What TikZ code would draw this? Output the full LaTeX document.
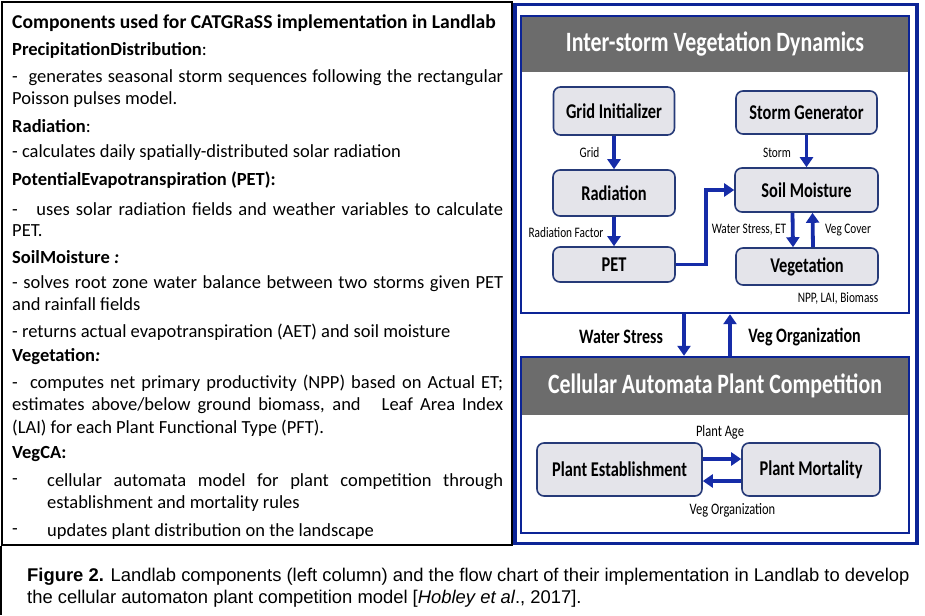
\documentclass[tikz,border=0pt]{standalone}
\usepackage{fontspec}
\setmainfont{Carlito}
\newfontfamily\capfont{Liberation Sans}
\newfontfamily\condfont[FakeStretch=0.78]{Carlito}
\usetikzlibrary{arrows.meta}
\definecolor{arrowblue}{RGB}{22,44,168}
\definecolor{frameblue}{RGB}{12,36,150}
\definecolor{boxborder}{RGB}{38,58,120}
\definecolor{boxfill}{RGB}{228,228,234}
\definecolor{headgray}{RGB}{108,108,108}
\tikzset{
  box/.style={draw=boxborder, fill=boxfill, rounded corners=7pt, line width=1.6pt,
    font=\condfont\bfseries\fontsize{21}{23}\selectfont, inner sep=0pt},
  flow/.style={-{Triangle[length=10pt,width=13pt]}, draw=arrowblue, line width=3.8pt},
  lbl/.style={font=\condfont\fontsize{14.5}{16}\selectfont, inner sep=0pt},
  lblb/.style={font=\condfont\fontsize{16}{18}\selectfont, inner sep=0pt},
  midlbl/.style={font=\condfont\bfseries\fontsize{20.5}{22}\selectfont, inner sep=0pt},
  panel/.style={draw=frameblue, line width=2.4pt, inner sep=0pt},
  head/.style={fill=headgray, inner sep=0pt, text=white, font=\condfont\bfseries\fontsize{28}{30}\selectfont},
  txt/.style={anchor=west, inner sep=0pt, font=\fontsize{18.5}{20}\selectfont},
  txtb/.style={anchor=west, inner sep=0pt, font=\bfseries\fontsize{18.5}{20}\selectfont},
  captext/.style={anchor=west, inner sep=0pt, font=\capfont\fontsize{18.4}{20}\selectfont},
}
\begin{document}
\begin{tikzpicture}[x=1pt,y=-1pt]
\useasboundingbox (0,0) rectangle (925,615);
\fill[white] (0,0) rectangle (925,615);
% left column
\node[draw=black, line width=2pt, minimum width=510pt, minimum height=543pt, inner sep=0pt] (leftbox) at (257,273.5) {};
\coordinate (pagebottom) at (2,615);
\draw[black, line width=1.5pt] (leftbox.south west) -- (leftbox.south west |- pagebottom);
\node[txtb, font=\bfseries\fontsize{19.6}{21}\selectfont] (t0) at (12,23) {Components used for CATGRaSS implementation in Landlab};
\node[txt] (t1) at (12,50) {\textbf{PrecipitationDistribution}:};
\node[txt] (t2) at (12,78) {\makebox[491pt][s]{-\ \ generates seasonal storm sequences following the rectangular}};
\node[txt] (t3) at (12,100) {Poisson pulses model.};
\node[txt] (t4) at (12,126) {\textbf{Radiation}:};
\node[txt] (t5) at (12,153) {- calculates daily spatially-distributed solar radiation};
\node[txtb] (t6) at (12,180) {PotentialEvapotranspiration (PET):};
\node[txt] (t7) at (12,209) {\makebox[491pt][s]{-\ \ \ uses solar radiation fields and weather variables to calculate}};
\node[txt] (t8) at (12,231) {PET.};
\node[txtb] (t9) at (12,257) {SoilMoisture \textit{:}};
\node[txt] (t10) at (12,284) {\makebox[491pt][s]{- solves root zone water balance between two storms given PET}};
\node[txt] (t11) at (12,304) {and rainfall fields};
\node[txt] (t12) at (12,332) {- returns actual evapotranspiration (AET) and soil moisture};
\node[txtb] (t13) at (12,357) {Vegetation\textit{:}};
\node[txt] (t14) at (12,383) {\makebox[491pt][s]{-\ \ computes net primary productivity (NPP) based on Actual ET;}};
\node[txt] (t15) at (12,406) {\makebox[491pt][s]{estimates above/below ground biomass, and\ \ \ Leaf Area Index}};
\node[txt] (t16) at (12,428) {(LAI) for each Plant Functional Type (PFT).};
\node[txtb] (t17) at (12,454) {VegCA:};
\node[txt] (t18a) at (12,482) {-};
\node[txt] (t18) at (47,482) {\makebox[456pt][s]{cellular automata model for plant competition through}};
\node[txt] (t19) at (47,504) {establishment and mortality rules};
\node[txt] (t20a) at (12,532) {-};
\node[txt] (t20) at (47,532) {updates plant distribution on the landscape};
% right frame
\node[draw=frameblue, line width=3.5pt, minimum width=402pt, minimum height=539pt, inner sep=0pt] (frame) at (716,274) {};
% top panel
\node[head, minimum width=388pt, minimum height=56pt] (h1) at (715,44) {Inter-storm Vegetation Dynamics};
\node[panel, minimum width=388pt, minimum height=297pt] (p1) at (715,164.5) {};
\node[box, minimum width=121pt, minimum height=48pt] (grid) at (614,111) {Grid Initializer};
\node[box, minimum width=141pt, minimum height=43pt] (storm) at (806.5,112.5) {Storm Generator};
\node[box, minimum width=122pt, minimum height=46pt] (rad) at (614,193) {Radiation};
\node[box, minimum width=143pt, minimum height=44pt] (soil) at (806.5,190) {Soil Moisture};
\node[box, minimum width=122pt, minimum height=35pt] (pet) at (614,264.5) {PET};
\node[box, minimum width=142pt, minimum height=37pt] (veg) at (807,266.5) {Vegetation};
\draw[flow] (grid.south) -- (rad.north);
\draw[flow] (storm.south) -- (soil.north);
\draw[flow] (rad.south) -- (pet.north);
\draw[flow] (pet.east) -- ++(30,0) |- (soil.west);
\draw[flow] ([xshift=-14pt]soil.south) -- ([xshift=-14pt]veg.north);
\draw[flow] ([xshift=6pt]veg.north) -- ([xshift=6pt]soil.south);
\node[lbl] (lgrid) at (589.5,153) {Grid};
\node[lbl] (lstorm) at (777,153) {Storm};
\node[lbl] (lradf) at (566,233) {Radiation Factor};
\node[lbl] (lws) at (749,230) {Water Stress, ET};
\node[lbl] (lvc) at (848,230) {Veg Cover};
\node[lbl] (lnpp) at (838,298) {NPP, LAI, Biomass};
% bottom panel
\node[head, minimum width=388pt, minimum height=58pt] (h2) at (715,386) {Cellular Automata Plant Competition};
\node[panel, minimum width=388pt, minimum height=176pt] (p2) at (715,445) {};
\draw[flow] ([xshift=-31pt]p1.south) -- ([xshift=-31pt]p2.north);
\draw[flow] ([xshift=15pt]p2.north) -- ([xshift=15pt]p1.south);
\node[midlbl] (lwater) at (621,337) {Water Stress};
\node[midlbl] (lvego) at (804.5,337) {Veg Organization};
\node[box, minimum width=165pt, minimum height=53pt] (est) at (619.5,469.5) {Plant Establishment};
\node[box, minimum width=138pt, minimum height=53pt] (mort) at (811,469.5) {Plant Mortality};
\draw[flow] ([yshift=10.5pt]est.east) -- ([yshift=10.5pt]mort.west);
\draw[flow] ([yshift=-11.5pt]mort.west) -- ([yshift=-11.5pt]est.east);
\node[lblb] (lage) at (720,432) {Plant Age};
\node[lblb] (lvo2) at (732.5,510) {Veg Organization};
% caption
\node[captext] (c1) at (27,577) {\textbf{Figure 2.} Landlab components (left column) and the flow chart of their implementation in Landlab to develop};
\node[captext] (c2) at (27,599) {the cellular automaton plant competition model [\textit{Hobley et al}., 2017].};
\end{tikzpicture}
\end{document}
